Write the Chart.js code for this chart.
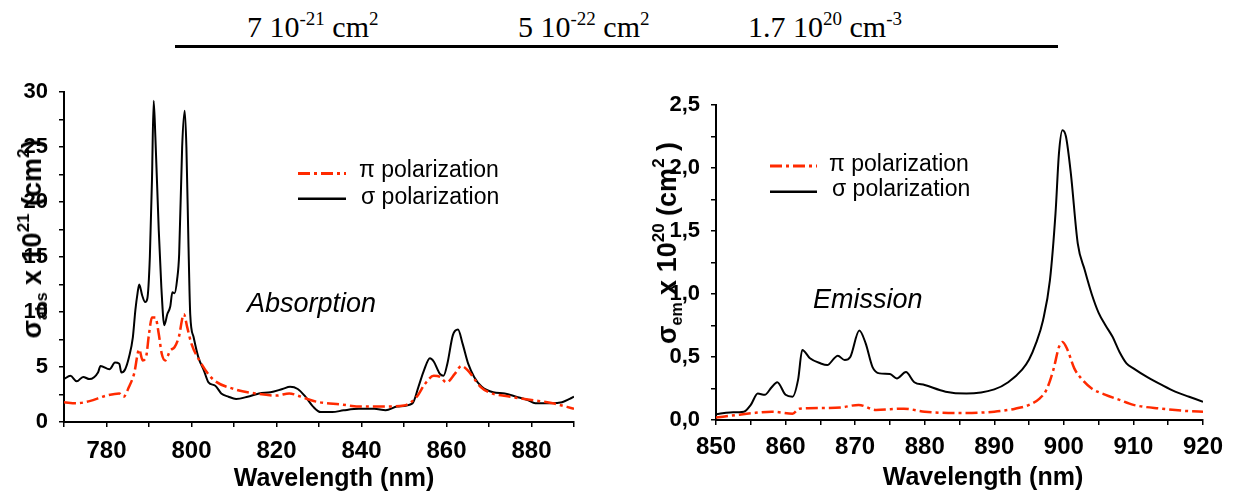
<!DOCTYPE html>
<html>
<head>
<meta charset="utf-8">
<script src="https://cdn.jsdelivr.net/npm/chart.js@4.4.1/dist/chart.umd.min.js"></script>
<style>
  body { margin: 0; width: 1239px; height: 495px; background: #fff; position: relative; overflow: hidden;
         font-family: "Liberation Sans", Arial, sans-serif; color: #000; }
  canvas { position: absolute; top: 60px; }
  #absChart { left: 0; }
  #emChart { left: 620px; }
  .head { position: absolute; top: 12px; font-family: "Liberation Serif", "Times New Roman", serif;
          font-size: 30px; line-height: 30px; white-space: nowrap; }
  .head sup { font-size: 19px; vertical-align: baseline; position: relative; top: -12px; }
  #rule { position: absolute; left: 175px; top: 45px; width: 883px; height: 3px; background: #000; }
  .xt { position: absolute; top: 465px; font-weight: bold; font-size: 25px; line-height: 25px;
        transform: translateX(-50%); white-space: nowrap; }
  .yt { position: absolute; font-weight: bold; font-size: 27px; line-height: 27px; white-space: nowrap;
        transform: translate(-50%, -50%) rotate(-90deg); }
  .yt sub { font-size: 16px; vertical-align: baseline; position: relative; top: 6px; }
  .yt sup { font-size: 17px; vertical-align: baseline; position: relative; top: -12px; }
  .note { position: absolute; font-style: italic; font-size: 27px; line-height: 27px; white-space: nowrap; }
</style>
</head>
<body>
<div class="head" style="left:247px">7 10<sup>-21</sup> cm<sup>2</sup></div>
<div class="head" style="left:518px">5 10<sup>-22</sup> cm<sup>2</sup></div>
<div class="head" style="left:748px">1.7 10<sup>20</sup> cm<sup>-3</sup></div>
<div id="rule"></div>

<canvas id="absChart" width="620" height="435"></canvas>
<canvas id="emChart" width="619" height="435"></canvas>

<div class="yt" style="left:34px;top:239px">σ<sub>abs</sub> x 10<sup>21</sup> (cm<sup>2</sup>)</div>
<div class="yt" style="left:669px;top:243px">σ<sub>em</sub> x 10<sup>20</sup> (cm<sup>2</sup> )</div>
<div class="xt" style="left:334px">Wavelength (nm)</div>
<div class="xt" style="left:983px;top:464px">Wavelength (nm)</div>
<div class="note" style="left:247px;top:290px">Absorption</div>
<div class="note" style="left:813px;top:286px">Emission</div>

<script>
// absorption, sigma polarization (x10^-21 cm2)
const absSigmaWl = [770, 771.5, 773, 774.5, 776, 778, 778.6, 780.7, 782, 783, 783.5, 784.4, 785.3, 786.2, 786.8,
  787.3, 787.7, 788.4, 789.1, 789.6, 790.2, 790.7, 791.1, 791.5, 792.3, 792.9, 793.6, 794.3, 795, 795.5,
  796, 796.6, 797.1, 797.8, 798.4, 798.8, 799.3, 799.7, 800.5, 801.6, 802.9, 804, 805.6, 807, 808.7,
  810.5, 813.2, 815.9, 818.6, 821.4, 823.2, 825, 826.8, 828.6, 830.4, 833.1, 835.8, 839.4, 843, 845.7,
  848.4, 852, 853.4, 854.7, 856.1, 857, 858.4, 859.3, 860.2, 861.5, 862.7, 863.8, 865.1, 866.5, 868.3,
  871, 873.7, 876.4, 879.1, 880.9, 884.5, 887.2, 889, 890];
const absSigmaVal = [3.9, 4.2, 3.7, 4.1, 3.9, 4.5, 5.1, 4.8, 5.4, 5.3, 4.5, 4.8, 5.9, 7.7, 10.2,
  11.7, 12.5, 11.5, 10.9, 11.2, 15, 22, 29.2, 25.9, 17.4, 12.3, 8.8, 9.8, 10.5, 11.8,
  11.7, 12.9, 15.3, 25, 28.3, 25, 15.9, 9.8, 7.7, 5.9, 4.7, 3.6, 3.3, 2.6, 2.3,
  2.1, 2.3, 2.6, 2.7, 3.0, 3.2, 3.0, 2.3, 1.4, 0.9, 0.9, 1.06, 1.2, 1.2, 1.06,
  1.4, 1.7, 3.2, 4.7, 5.8, 5.5, 4.4, 4.2, 5.3, 7.9, 8.4, 7.1, 5.3, 4.1, 3.2,
  2.7, 2.6, 2.3, 2.0, 1.7, 1.7, 1.8, 2.1, 2.3];

// absorption, pi polarization
const absPiWl = [770, 773, 776, 780, 783, 784, 785.3, 786.5, 787.7, 788.5, 789.3, 790, 790.7, 791.5, 792.3,
  793, 793.8, 795, 796, 797, 798.2, 799, 800, 802, 805, 810, 815, 820, 823, 825,
  828, 830, 835, 840, 845, 850, 853, 855, 857, 858.5, 860, 862, 863.5, 865, 868,
  870, 875, 880, 885, 890];
const absPiVal = [1.8, 1.7, 1.9, 2.4, 2.6, 2.3, 3.2, 4.4, 6.6, 5.6, 5.9, 8, 9.5, 9.5, 8,
  6.2, 5.6, 6.5, 6.8, 7.7, 9.8, 8.6, 7.1, 5.5, 3.9, 3.0, 2.6, 2.4, 2.6, 2.4,
  2.0, 1.8, 1.6, 1.4, 1.4, 1.5, 2.3, 3.5, 4.2, 4.1, 3.6, 4.4, 5.1, 4.7, 3.2,
  2.7, 2.3, 2.0, 1.7, 1.2];

// emission, sigma polarization (x10^-20 cm2)
const emSigmaWl = [850, 852, 854, 855, 856, 857, 858, 858.8, 860, 861, 861.8, 862.4, 863.5, 865, 866,
  867, 867.5, 868.5, 869.3, 870.6, 871.5, 872.5, 873.5, 875, 876, 877.3, 878.5, 880, 883, 886,
  890, 892, 894, 895, 896, 897, 898, 898.8, 899.3, 899.8, 900.3, 901, 902, 903, 904,
  905, 906, 907, 908, 909, 910, 912, 914, 916, 918, 920];
const emSigmaVal = [0.045, 0.06, 0.066, 0.12, 0.21, 0.2, 0.26, 0.30, 0.2, 0.185, 0.32, 0.556, 0.49, 0.45, 0.436,
  0.49, 0.51, 0.476, 0.5, 0.71, 0.61, 0.42, 0.37, 0.365, 0.33, 0.38, 0.30, 0.278, 0.225, 0.21,
  0.243, 0.3, 0.4, 0.48, 0.61, 0.79, 1.11, 1.64, 2.12, 2.30, 2.25, 1.96, 1.40, 1.19, 1.0,
  0.85, 0.75, 0.66, 0.54, 0.45, 0.41, 0.34, 0.28, 0.225, 0.185, 0.145];

// emission, pi polarization
const emPiWl = [850, 853, 855, 858, 861, 862, 865, 868, 870.5, 873, 877, 880, 885, 890, 893,
  895, 896.5, 897.5, 898.5, 899.3, 899.8, 900.5, 901.5, 902.5, 904, 906, 908, 910, 914, 918, 920];
const emPiVal = [0.02, 0.04, 0.053, 0.066, 0.05, 0.09, 0.095, 0.1, 0.12, 0.08, 0.09, 0.066, 0.055, 0.066, 0.09,
  0.12, 0.17, 0.24, 0.40, 0.58, 0.62, 0.56, 0.41, 0.33, 0.25, 0.2, 0.16, 0.12, 0.09, 0.07, 0.066];

// labelled ticks
const absXTicks = [780, 800, 820, 840, 860, 880];
const absYTicks = [0, 5, 10, 15, 20, 25, 30];
const emXTicks = [850, 860, 870, 880, 890, 900, 910, 920];
const emYTicks = [0, 0.5, 1, 1.5, 2, 2.5];

const RED = '#ff2a00';
const PI_DASH = [12, 4, 3, 4];

const toPoints = (xs, ys) => xs.map((x, i) => ({ x: x, y: ys[i] }));
const has = (list, v) => list.some(t => Math.abs(t - v) < 1e-6);

// draws the legend rows inside the plot at fixed spots
const inlineLegend = {
  id: 'inlineLegend',
  afterDatasetsDraw(chart, args, opts) {
    const ctx = chart.ctx;
    ctx.save();
    ctx.font = '23px "Liberation Sans", Arial, sans-serif';
    ctx.fillStyle = '#000';
    opts.rows.forEach((row, i) => {
      const ds = chart.data.datasets[i];
      ctx.beginPath();
      ctx.strokeStyle = ds.borderColor;
      ctx.lineWidth = ds.borderWidth + 0.5;
      ctx.setLineDash(ds.borderDash || []);
      ctx.moveTo(opts.x0, row.y);
      ctx.lineTo(opts.x1, row.y);
      ctx.stroke();
      ctx.setLineDash([]);
      ctx.fillText(ds.label, row.tx, row.ty);
    });
    ctx.restore();
  }
};

function axis(min, max, step, labels, fmt, fontSize, padding, fit) {
  return {
    type: 'linear',
    min: min,
    max: max,
    afterFit: fit,
    border: { display: true, color: '#000', width: 2 },
    grid: { display: true, drawOnChartArea: false, drawTicks: true, tickLength: 5, color: '#000', lineWidth: 1.5 },
    ticks: {
      stepSize: step,
      autoSkip: false,
      maxRotation: 0,
      padding: padding,
      color: '#000',
      font: { family: '"Liberation Sans", Arial, sans-serif', weight: 'bold', size: fontSize },
      callback: v => has(labels, v) ? fmt(v) : ''
    }
  };
}

function lineSets(piPts, sigmaPts) {
  return [
    { label: 'π polarization', data: piPts, borderColor: RED, borderWidth: 2.5, borderDash: PI_DASH,
      pointRadius: 0, cubicInterpolationMode: 'monotone', fill: false },
    { label: 'σ polarization', data: sigmaPts, borderColor: '#000', borderWidth: 2,
      pointRadius: 0, cubicInterpolationMode: 'monotone', fill: false }
  ];
}

new Chart(document.getElementById('absChart'), {
  type: 'line',
  data: { datasets: lineSets(toPoints(absPiWl, absPiVal), toPoints(absSigmaWl, absSigmaVal)) },
  options: {
    responsive: false,
    animation: false,
    layout: { padding: { left: 0, right: 46, top: 32, bottom: 0 } },
    plugins: {
      legend: { display: false },
      tooltip: { enabled: false },
      inlineLegend: { x0: 298, x1: 346, rows: [{ y: 113.5, tx: 359, ty: 117 }, { y: 138.7, tx: 361, ty: 143.6 }] }
    },
    scales: {
      x: axis(770, 890, 10, absXTicks, v => String(v), 24, 10, s => { s.height = 73; }),
      y: axis(0, 30, 2.5, absYTicks, v => String(v), 22, 11, s => { s.width = 64; })
    }
  },
  plugins: [inlineLegend]
});

new Chart(document.getElementById('emChart'), {
  type: 'line',
  data: { datasets: lineSets(toPoints(emPiWl, emPiVal), toPoints(emSigmaWl, emSigmaVal)) },
  options: {
    responsive: false,
    animation: false,
    layout: { padding: { left: 0, right: 36, top: 45, bottom: 0 } },
    plugins: {
      legend: { display: false },
      tooltip: { enabled: false },
      inlineLegend: { x0: 150, x1: 197, rows: [{ y: 106, tx: 209, ty: 110.6 }, { y: 131.7, tx: 212, ty: 136 }] }
    },
    scales: {
      x: axis(850, 920, 5, emXTicks, v => String(v), 24, 8, s => { s.height = 75; }),
      y: axis(0, 2.5, 0.25, emYTicks, v => v.toFixed(1).replace('.', ','), 22, 11, s => { s.width = 96; })
    }
  },
  plugins: [inlineLegend]
});
</script>
</body>
</html>
